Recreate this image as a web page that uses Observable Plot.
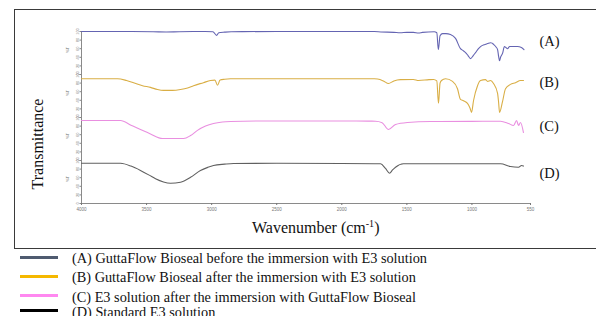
<!DOCTYPE html>
<html><head><meta charset="utf-8">
<script src="https://cdn.jsdelivr.net/npm/d3@7"></script>
<script src="https://cdn.jsdelivr.net/npm/@observablehq/plot@0.6"></script>
<style>
body{margin:0;background:#fff;width:596px;height:316px;overflow:hidden;position:relative;font-family:"Liberation Serif","Times New Roman",serif;color:#111;}
#chart{position:absolute;left:0;top:0}
#frame{position:absolute;left:14px;top:9px;width:640px;height:238px;border:1px solid #3a3a3a;border-right:none;pointer-events:none}
.ylab{position:absolute;left:38px;top:144px;font-size:16px;line-height:16px;white-space:nowrap;transform:translate(-50%,-50%) rotate(-90deg);}
.xlab{position:absolute;left:252px;top:219.6px;font-size:16px;line-height:16px;white-space:nowrap;}
.xlab sup{font-size:10px;vertical-align:6px;line-height:0}
.lg{position:absolute;left:72px;font-size:14.3px;line-height:14px;white-space:nowrap;}
.sw{position:absolute;left:20px;width:38px;height:3px;}
</style></head>
<body>
<div id="chart"></div>
<div id="frame"></div>
<div class="ylab">Transmittance</div>
<div class="xlab">Wavenumber (cm<sup>-1</sup>)</div>
<div id="legend"></div>
<script>
// Series keys and legend text
const seriesKeys = ["A", "B", "C", "D"];
const seriesNames = [
  "(A) GuttaFlow Bioseal before the immersion with E3 solution",
  "(B) GuttaFlow Bioseal after the immersion with E3 solution",
  "(C) E3 solution after the immersion with GuttaFlow Bioseal",
  "(D) Standard E3 solution"
];
const lineColors = ["#6464b2", "#d9ae45", "#e98fe0", "#606060"];
const legendColors = ["#4f5b70", "#f5b800", "#ff88f0", "#000000"];
const xTicks = [4000, 3500, 3000, 2500, 2000, 1500, 1000, 550];
const yTicks = [0, 20, 40, 60, 80, 100];

// (A)
const wnA = [4000,3700,3450,3350,3250,3050,2990,2962,2945,2900,2850,2500,2000,1750,1700,1600,1550,1500,1450,1410,1380,1290,1270,1258,1245,1226,1200,1165,1126,1088,1070,1049,1030,1011,990,972,950,934,900,880,857,845,834,815,803,795,788,780,765,750,740,727,710,680,650,620,600];
const tA  = [100,100,99.5,98.8,99.5,100,99.5,91,97,98.5,99.5,100,100,100,99,98,97,98,98,96.5,98,99.5,97,58,90,95,95,93,84,60,56,51,44,37,44,51,60,65,70,72,74,73,70,64,58,42,32,40,49,65,63,60,65,65,65,63,58];
// (B)
const wnB = [4000,3750,3723,3654,3600,3531,3470,3416,3370,3301,3239,3185,3139,3063,3009,2975,2955,2935,2900,2855,2500,2000,1750,1725,1680,1641,1600,1549,1450,1410,1330,1295,1270,1257,1245,1234,1203,1149,1111,1088,1065,1034,1015,1003,988,957,934,896,880,857,834,803,795,788,765,742,704,665,627,604];
const tB  = [90,90,90,86,81,74,70,65,63,63,65,68.6,74,81,86,87,75,87,89,90,90,90,90,89.5,85,79,85,88,88.5,86,88,88.5,85,33,80,86,90,84,67,42,39,33,22,12,39,74,86,88,84,86,79,56,35,12,37,67,77,81,86,86];
// (C)
const wnC = [4000,3750,3700,3620,3547,3470,3378,3300,3216,3162,3109,3047,2986,2917,2855,2625,2000,1800,1741,1690,1641,1587,1495,1318,1000,780,719,680,657,642,627,604];
const tC  = [93,93,93,82,72,61.6,51,51,51,58,70,80,86,89.5,90.7,92,92,91.5,91.4,88,72,83.7,88.4,90.7,91,91.4,86,81.4,93,81.4,88.4,65];
// (D)
const wnD = [4000,3750,3700,3620,3547,3480,3431,3370,3316,3239,3162,3086,3030,2986,2900,2832,2500,2000,1750,1702,1664,1633,1610,1587,1526,1200,780,704,642,619,604];
const tD  = [93.7,93.7,93.5,87,77,66,57.4,50,47.2,49.6,61,76.7,84,88.4,91.5,93,93.5,93,92.5,92.3,81.4,70.5,78,84.4,92.3,92.3,92.3,86,84.4,88.4,87];
// label positions (%T within each panel)
const labelT = [77, 81, 79, 70];

const wns = [wnA, wnB, wnC, wnD];
const ts = [tA, tB, tC, tD];
const rows = [];
seriesKeys.forEach((s, i) => wns[i].forEach((w, j) => rows.push({s, wn: w, t: ts[i][j]})));
const labels = seriesKeys.map((s, i) => ({s, t: labelT[i], text: "(" + s + ")"}));

const chart = Plot.plot({
  width: 596, height: 248,
  marginLeft: 81, marginRight: 66, marginTop: 31, marginBottom: 45,
  style: {background: "transparent", fontFamily: "Arial, sans-serif"},
  x: {domain: [4000, 550]},
  y: {domain: [0, 100]},
  fy: {domain: seriesKeys, padding: 0, axis: null},
  color: {domain: seriesKeys, range: lineColors},
  marks: [
    Plot.ruleX([4000], {stroke: "#8a8a8a", strokeWidth: 1}),
    Plot.ruleY([{s: "D", v: 0}], {y: "v", fy: "s", stroke: "#8a8a8a"}),
    Plot.axisY({ticks: yTicks, tickSize: 1.5, tickPadding: 1, fontSize: 4, tickRotate: -90, label: null, color: "#888"}),
    Plot.axisX({ticks: xTicks, tickFormat: d => String(d), tickSize: 2, tickPadding: 2, fontSize: 4.5, label: null, color: "#777"}),
    Plot.text(["%T"], {frameAnchor: "left", dx: -14, rotate: -90, fontSize: 4, fill: "#666"}),
    Plot.lineY(rows, {x: "wn", y: "t", fy: "s", stroke: "s", strokeWidth: 1.1, curve: "monotone-x"}),
    Plot.text(labels, {x: () => 550, y: "t", fy: "s", text: "text", dx: 9, textAnchor: "start", fontSize: 14.5, fontFamily: "Liberation Serif, Times New Roman, serif", fill: "#111"})
  ]
});
document.getElementById("chart").appendChild(chart);

// Legend below the chart
const rowTops = [251.2, 270.2, 289.6, 305.2];
const swTops = [256.2, 275.2, 294.2, 308.5];
const lg = document.getElementById("legend");
seriesNames.forEach((name, i) => {
  const sw = document.createElement("div");
  sw.className = "sw"; sw.style.top = swTops[i] + "px"; sw.style.background = legendColors[i];
  lg.appendChild(sw);
  const t = document.createElement("div");
  t.className = "lg"; t.style.top = rowTops[i] + "px"; t.textContent = name;
  lg.appendChild(t);
});
</script>
</body></html>
